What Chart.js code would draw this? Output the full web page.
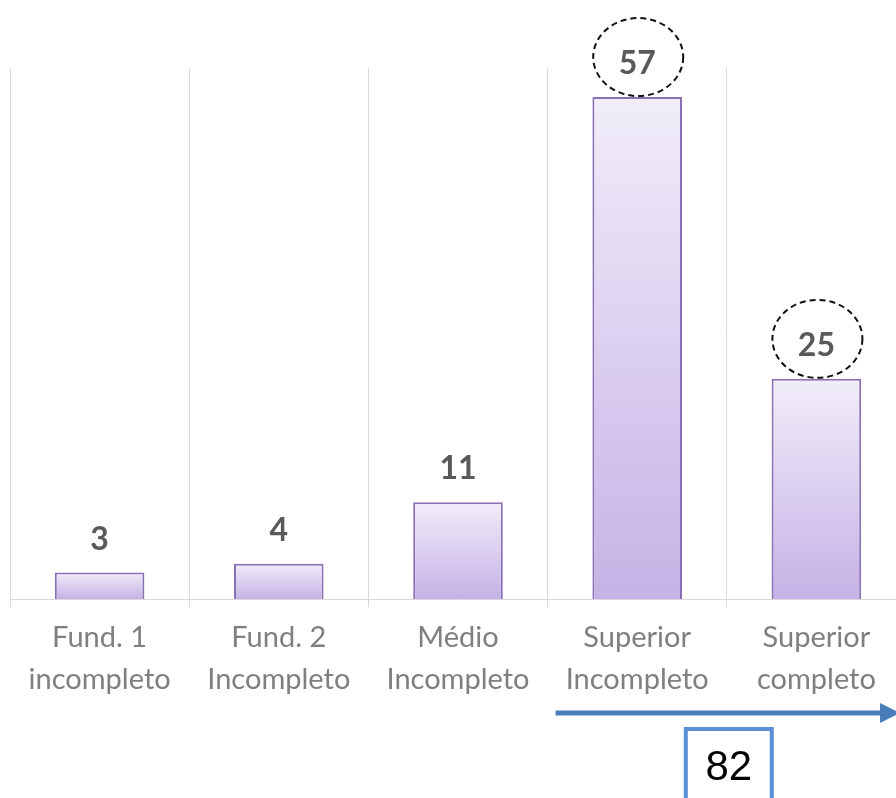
<!DOCTYPE html>
<html>
<head>
<meta charset="utf-8">
<script src="https://cdn.jsdelivr.net/npm/chart.js@4"></script>
<style>
  body { margin: 0; overflow: hidden; background: #fff; }
  #wrap { position: absolute; left: 0; top: 0; width: 906px; height: 798px; }
</style>
</head>
<body>
<div id="wrap"><canvas id="barChart" width="906" height="798"></canvas></div>
<script>
const categories = [
  ["Fund. 1", "incompleto"],
  ["Fund. 2", "Incompleto"],
  ["Médio", "Incompleto"],
  ["Superior", "Incompleto"],
  ["Superior", "completo"],
];
const values = [3, 4, 11, 57, 25];
const circled = [3, 4];
const yTicks = [0, 60.3];
const totalLabel = "82";

// bar fill: light at the top, darker lavender at the base
function barFill(ctx) {
  const chart = ctx.chart;
  const y = chart.scales.y;
  if (!chart.chartArea || !y || ctx.raw == null) return "#d9cdef";
  const top = y.getPixelForValue(ctx.raw);
  const bottom = y.getPixelForValue(0);
  if (!isFinite(top) || !isFinite(bottom) || top === bottom) return "#d9cdef";
  const g = chart.ctx.createLinearGradient(0, top, 0, bottom);
  g.addColorStop(0, "#f1edf9");
  g.addColorStop(1, "#c5b2e6");
  return g;
}

const valueLabels = {
  id: "valueLabels",
  afterDatasetsDraw(chart) {
    const ctx = chart.ctx;
    const meta = chart.getDatasetMeta(0);
    ctx.save();
    ctx.font = "bold 32px Lato";
    ctx.fillStyle = "#595959";
    ctx.textAlign = "center";
    ctx.textBaseline = "middle";
    meta.data.forEach((bar, i) => {
      const cy = bar.y - 33;
      ctx.fillText(String(values[i]), bar.x, cy);
      if (circled.includes(i)) {
        ctx.save();
        ctx.setLineDash([6, 4]);
        ctx.lineWidth = 2;
        ctx.strokeStyle = "#111";
        ctx.beginPath();
        ctx.ellipse(bar.x + 1, cy - 7, 45, 39, 0, 0, Math.PI * 2);
        ctx.stroke();
        ctx.restore();
      }
    });
    ctx.restore();
  },
};

const totalArrow = {
  id: "totalArrow",
  afterDraw(chart) {
    const ctx = chart.ctx;
    const x = chart.scales.x;
    const from = x.getPixelForValue(2.5) + 8;
    const mid = x.getPixelForValue(3.5) + 2;
    const y = 713;
    ctx.save();
    ctx.strokeStyle = "#4a7ebb";
    ctx.fillStyle = "#4a7ebb";
    ctx.lineWidth = 5;
    ctx.beginPath();
    ctx.moveTo(from, y);
    ctx.lineTo(884, y);
    ctx.stroke();
    ctx.beginPath();
    ctx.moveTo(880, y - 10);
    ctx.lineTo(900, y);
    ctx.lineTo(880, y + 10);
    ctx.closePath();
    ctx.fill();

    ctx.strokeStyle = "#5a8fd6";
    ctx.lineWidth = 4;
    ctx.strokeRect(mid - 43, 729, 86, 80);
    ctx.fillStyle = "#000";
    ctx.font = "42px 'Liberation Sans'";
    ctx.textAlign = "center";
    ctx.textBaseline = "middle";
    ctx.fillText(totalLabel, mid, 768);
    ctx.restore();
  },
};

new Chart(document.getElementById("barChart"), {
  type: "bar",
  data: {
    labels: categories,
    datasets: [
      {
        data: values,
        backgroundColor: barFill,
        borderColor: "#8a70b4",
        borderWidth: 2,
        categoryPercentage: 1,
        barPercentage: 0.5,
      },
    ],
  },
  options: {
    responsive: false,
    animation: false,
    layout: { padding: { left: 10, top: 68, right: 0, bottom: 0 } },
    plugins: { legend: { display: false }, tooltip: { enabled: false } },
    scales: {
      x: {
        grid: { color: "#d9d9d9", tickLength: 8, offset: true },
        border: { color: "#d9d9d9" },
        ticks: {
          color: "#7f7f7f",
          padding: 10,
          maxRotation: 0,
          font: { family: "Lato", size: 29, lineHeight: 1.45 },
        },
        afterFit: (scale) => { scale.height = 199; },
      },
      y: {
        display: false,
        min: yTicks[0],
        max: yTicks[1],
      },
    },
  },
  plugins: [valueLabels, totalArrow],
});
</script>
</body>
</html>
